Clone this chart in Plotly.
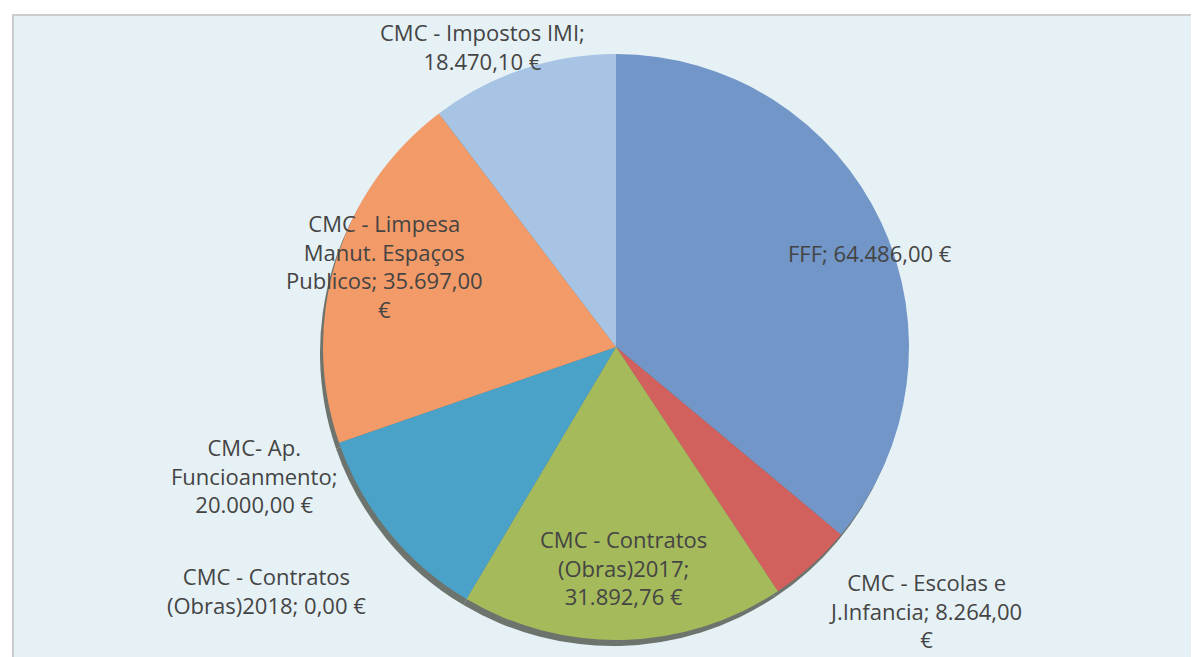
import plotly.graph_objects as go

categories = ["FFF", "CMC - Escolas e J.Infancia", "CMC - Contratos (Obras)2017",
              "CMC - Contratos (Obras)2018", "CMC- Ap. Funcioanmento",
              "CMC - Limpesa Manut. Espaços Publicos", "CMC - Impostos IMI"]
values = [64486.00, 8264.00, 31892.76, 0.00, 20000.00, 35697.00, 18470.10]
label_lines = [
    ["FFF; {v}"],
    ["CMC - Escolas e", "J.Infancia; {v}"],
    ["CMC - Contratos", "(Obras)2017;", "{v}"],
    ["CMC - Contratos", "(Obras)2018; {v}"],
    ["CMC- Ap.", "Funcioanmento;", "{v}"],
    ["CMC - Limpesa", "Manut. Espaços", "Publicos; {v}"],
    ["CMC - Impostos IMI;", "{v}"],
]
colors = ["#7196c7", "#d2605d", "#a5ba5b", "#8aa6cf", "#4ba2c8", "#f39b68", "#a7c4e4"]

# the page adds an 8px body margin; compensate
OFF = 8
W, H = 1199, 657

# data-label centres in screen pixels
label_px = [(870, 253), (925, 610), (623, 567), (266, 590), (254, 475), (384, 266), (482, 46)]


def fmt(v):
    s = f"{v:,.2f}"
    s = s.replace(",", "X").replace(".", ",").replace("X", ".")
    return s + " €"


def label_text(i):
    lines = [l.format(v=fmt(values[i])) for l in label_lines[i]]
    if i in (1, 5):
        lines[-1] = lines[-1][:-2]
        lines.append("€")
    return "<br>".join(lines)


def px_x(x):
    return (x - OFF) / W


def px_y(y):
    return (H - (y - OFF)) / H


cx, cy, r = 616, 347, 293

fig = go.Figure()
fig.add_trace(go.Pie(
    labels=categories, values=values, sort=False, direction="clockwise",
    marker=dict(colors=["#50554c"] * len(values), line=dict(width=0)),
    textinfo="none", hoverinfo="skip", showlegend=False,
    domain=dict(x=[px_x(cx - r - 3), px_x(cx + r - 3)],
                y=[px_y(cy + r + 6), px_y(cy - r + 6)]),
    opacity=0.8,
))
fig.add_trace(go.Pie(
    labels=categories, values=values, sort=False, direction="clockwise",
    marker=dict(colors=colors, line=dict(width=0)),
    textinfo="none", showlegend=False,
    domain=dict(x=[px_x(cx - r), px_x(cx + r)],
                y=[px_y(cy + r), px_y(cy - r)]),
))

for i, (x, y) in enumerate(label_px):
    fig.add_annotation(x=px_x(x), y=px_y(y), xref="paper", yref="paper", text=label_text(i),
                       showarrow=False, align="center", xanchor="center", yanchor="middle",
                       font=dict(family="Open Sans", size=22, color="#444444"))

fig.add_shape(type="rect", xref="paper", yref="paper", x0=px_x(13), x1=1.02, y0=-0.02, y1=px_y(15),
              fillcolor="#e6f1f6", line=dict(color="#c9cdd0", width=2), layer="below")

fig.update_layout(width=W, height=H, margin=dict(l=0, r=0, t=0, b=0),
                  paper_bgcolor="#ffffff", plot_bgcolor="#ffffff")
fig.write_html("out.html")
